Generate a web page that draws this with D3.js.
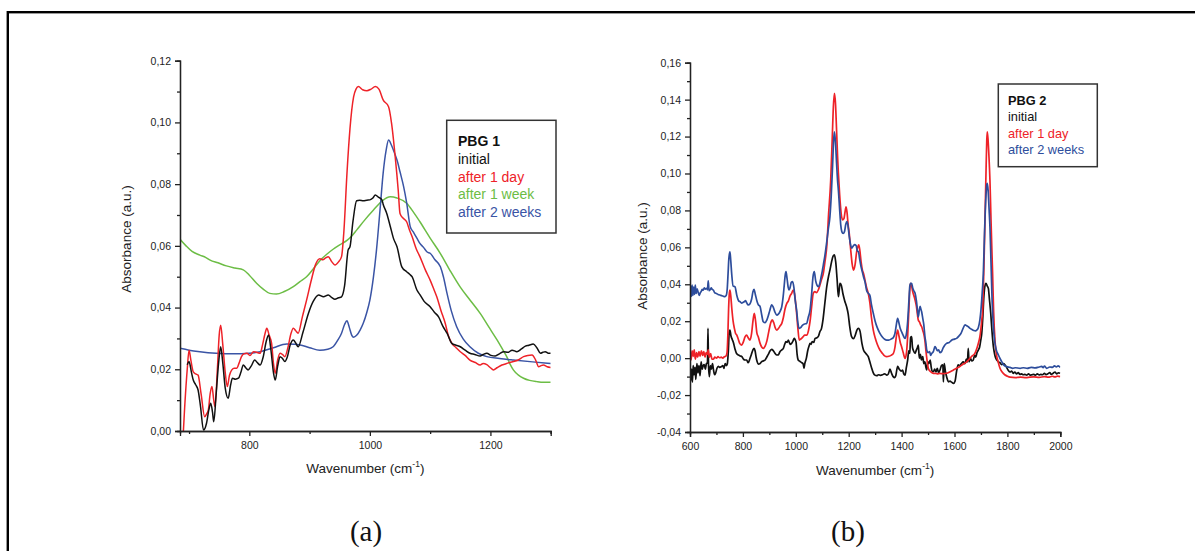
<!DOCTYPE html>
<html>
<head>
<meta charset="utf-8">
<script src="https://cdn.jsdelivr.net/npm/d3@7/dist/d3.min.js"></script>
<style>
  html, body { margin: 0; padding: 0; background: #fff; }
  svg { display: block; }
  .tick text { font-family: "Liberation Sans", Arial, sans-serif; font-size: 10.5px; fill: #222; }
  .axis path, .axis line { stroke: #222; stroke-width: 1.3; }
</style>
</head>
<body>
<svg id="fig" width="1195" height="551"></svg>
<script>
// ---------- Panel (a): PBG 1, [wavenumber cm-1, absorbance] ----------
const pbg1Initial = [[697,0.0215],[700,0.0225],[704,0.019],[707,0.0165],[711,0.015],[715,0.0133],[719,0.008],[724,0.0003],[729,0.0025],[733,0.007],[736,0.009],[739,0.006],[741,0.003],[745,0.012],[749,0.022],[752.5,0.0273],[756,0.022],[760,0.014],[765,0.0106],[769,0.015],[772,0.0171],[777,0.0168],[782,0.0171],[786,0.019],[790,0.0214],[794,0.0205],[798,0.0198],[803,0.021],[809,0.023],[813,0.0222],[818,0.0214],[823,0.024],[828,0.029],[832,0.0311],[836,0.026],[840,0.019],[843,0.0165],[847,0.021],[851,0.0241],[855,0.0235],[859,0.0225],[863,0.024],[868,0.028],[873,0.0295],[877,0.0285],[881,0.0273],[889,0.032],[898,0.0381],[906,0.042],[915,0.0441],[923,0.0435],[931,0.0441],[937,0.0432],[942,0.0427],[948,0.0432],[953,0.0435],[958,0.047],[964,0.0587],[967,0.0597],[972,0.068],[978,0.0746],[983,0.0748],[989,0.0746],[995,0.0748],[1000,0.0749],[1005,0.0755],[1009,0.0765],[1014,0.0758],[1020,0.0749],[1022,0.0735],[1028,0.0705],[1034,0.0662],[1039,0.0625],[1045,0.0597],[1053,0.0532],[1061,0.0516],[1066,0.0508],[1070,0.05],[1078,0.0457],[1083,0.0442],[1090,0.042],[1100,0.0403],[1107,0.0385],[1114,0.037],[1121,0.034],[1128,0.0317],[1136,0.0284],[1143,0.0278],[1150,0.0273],[1158,0.0262],[1166,0.0252],[1174,0.0248],[1183,0.0243],[1188,0.0248],[1194,0.0252],[1201,0.0245],[1208,0.0243],[1215,0.025],[1222,0.0257],[1229,0.0255],[1236,0.0262],[1244,0.0257],[1251,0.0265],[1258,0.0275],[1264,0.0278],[1271,0.0282],[1277,0.027],[1283,0.0252],[1287,0.0255],[1291,0.0257],[1296,0.0252],[1300,0.0252]];

const pbg1Day = [[686,-0.01],[690,-0.002],[693,0.0085],[697,0.02],[700,0.0262],[703,0.023],[707,0.0192],[711,0.0185],[715,0.0181],[720,0.012],[726,0.0046],[729,0.0055],[732,0.0068],[735,0.012],[738,0.0144],[741,0.01],[743,0.0079],[747,0.02],[750,0.031],[752.5,0.0343],[756,0.028],[760,0.019],[763.5,0.0144],[767,0.018],[771,0.0198],[775,0.0203],[779,0.0203],[783,0.022],[787,0.0241],[791,0.025],[796,0.0252],[801,0.0245],[807,0.0257],[812,0.0255],[818,0.0252],[822,0.028],[826,0.0315],[829,0.0333],[833,0.031],[837,0.0284],[840,0.022],[843,0.0187],[847,0.023],[851,0.0252],[855,0.0248],[859,0.0241],[864,0.027],[869,0.0315],[873,0.0333],[877,0.0325],[881,0.0317],[888,0.037],[895,0.0424],[903,0.049],[910,0.054],[917,0.0558],[922,0.0555],[926,0.056],[931,0.0565],[937,0.0548],[942,0.0538],[948,0.0548],[953,0.0565],[957,0.065],[962,0.0835],[967,0.098],[973,0.1083],[977,0.1108],[981,0.1116],[988,0.1106],[995,0.1103],[1002,0.1108],[1009,0.1116],[1015,0.1108],[1022,0.1073],[1031,0.1051],[1036,0.0997],[1042,0.0889],[1047,0.0781],[1050,0.0705],[1055,0.069],[1061,0.0678],[1066,0.065],[1070,0.063],[1077,0.059],[1083,0.0565],[1092,0.0522],[1100,0.0489],[1106,0.046],[1111,0.0435],[1118,0.039],[1125,0.0349],[1130,0.031],[1136,0.0284],[1143,0.027],[1150,0.0257],[1158,0.0245],[1166,0.023],[1175,0.0222],[1183,0.0214],[1188,0.0219],[1194,0.0215],[1200,0.0205],[1205,0.0198],[1211,0.0205],[1219,0.0214],[1226,0.0218],[1232,0.0222],[1238,0.0225],[1246,0.023],[1255,0.0241],[1262,0.0245],[1269,0.0246],[1275,0.023],[1280,0.0208],[1284,0.0212],[1288,0.0214],[1294,0.0208],[1300,0.0206]];

const pbg1Week = [[685,0.0621],[695,0.06],[705,0.0582],[718,0.057],[728,0.0562],[735,0.0554],[748,0.0545],[762,0.0535],[776,0.0528],[790,0.0522],[800,0.0505],[812,0.0479],[823,0.046],[834,0.0446],[845,0.0444],[858,0.0452],[873,0.0468],[884,0.0484],[895,0.05],[906,0.0525],[917,0.0552],[928,0.0572],[939,0.0589],[950,0.0603],[962,0.0618],[970,0.0632],[978,0.0651],[992,0.0685],[1006,0.0716],[1020,0.0745],[1034,0.0759],[1045,0.0755],[1061,0.0738],[1072,0.071],[1083,0.0678],[1100,0.0625],[1117,0.0575],[1133,0.052],[1150,0.0466],[1167,0.0422],[1183,0.0381],[1197,0.0338],[1211,0.0295],[1220,0.0265],[1227,0.0241],[1233,0.0215],[1238,0.0198],[1246,0.0182],[1255,0.0171],[1265,0.0164],[1277,0.016],[1288,0.0158],[1300,0.0158]];

const pbg1Weeks = [[685,0.0268],[700,0.0262],[718,0.0257],[745,0.0252],[773,0.025],[800,0.0252],[818,0.0257],[840,0.027],[862,0.0282],[875,0.0281],[884,0.0279],[900,0.027],[917,0.0262],[930,0.0265],[939,0.0273],[947,0.0295],[953,0.0317],[958,0.0345],[962,0.0357],[966,0.0335],[970,0.031],[973,0.0304],[978,0.031],[984,0.0328],[989,0.0349],[995,0.0385],[1000,0.0424],[1006,0.05],[1011,0.0587],[1017,0.072],[1022,0.0835],[1027,0.091],[1031,0.0943],[1036,0.0925],[1041,0.09],[1045,0.0878],[1050,0.084],[1056,0.0792],[1061,0.074],[1067,0.0662],[1072,0.0645],[1078,0.0625],[1083,0.0608],[1089,0.0595],[1095,0.058],[1100,0.0576],[1108,0.0555],[1117,0.0532],[1122,0.05],[1128,0.0446],[1135,0.039],[1144,0.0338],[1155,0.0298],[1166,0.0273],[1180,0.0252],[1194,0.0241],[1215,0.0235],[1238,0.023],[1270,0.0224],[1300,0.0219]];

// ---------- Panel (b): PBG 2 ----------
const pbg2Initial = [[600,-0.0074],[603,-0.012],[606,-0.006],[609,-0.013],[612,-0.004],[615,-0.009],[619,-0.005],[622,-0.0115],[626,-0.003],[630,-0.008],[634,-0.004],[638,-0.0095],[642,-0.002],[646,-0.006],[650,-0.004],[654,-0.0035],[658,-0.006],[662,-0.003],[666,-0.0025],[668,0.0162],[670,-0.004],[673,-0.01],[677,-0.004],[681,-0.006],[685,-0.003],[689,-0.0065],[693,-0.009],[697,-0.008],[702,-0.0055],[707,-0.0044],[712,-0.005],[718,-0.0047],[724,-0.004],[728,-0.0055],[733,-0.003],[738,-0.004],[741,-0.0032],[745,0.004],[748,0.0135],[751,0.0152],[755,0.012],[760,0.01],[764,0.0085],[770,0.005],[776,0.0025],[783,0.0017],[790,0.0012],[796,0.0008],[802,-0.0005],[808,-0.001],[814,-0.001],[820,-0.0025],[826,-0.0005],[832,0.002],[838,0.0045],[842,0.0053],[846,0.004],[850,0.0005],[854,-0.002],[858,-0.0032],[864,-0.003],[870,-0.002],[877,-0.0015],[884,-0.001],[890,0.0005],[896,0.002],[903,0.004],[909,0.0048],[915,0.004],[922,0.0025],[928,0.0017],[934,0.0018],[940,0.0035],[947,0.0045],[953,0.0053],[958,0.0075],[963,0.009],[967,0.0085],[972,0.0098],[978,0.0075],[984,0.008],[990,0.0095],[994,0.0107],[997,0.0102],[1001,0.0085],[1005,0.002],[1009,-0.001],[1013,-0.0015],[1018,-0.002],[1023,-0.0025],[1028,-0.0032],[1031,-0.0055],[1034,-0.003],[1040,0.0],[1045,0.004],[1050,0.0065],[1054,0.008],[1058,0.0075],[1062,0.009],[1068,0.0085],[1073,0.0107],[1080,0.011],[1086,0.012],[1091,0.0143],[1097,0.016],[1103,0.021],[1110,0.03],[1117,0.0387],[1124,0.0445],[1129,0.0477],[1135,0.052],[1141,0.0552],[1146,0.0559],[1151,0.052],[1156,0.043],[1161,0.0333],[1164,0.0365],[1167,0.0405],[1172,0.0395],[1178,0.035],[1185,0.031],[1192,0.0279],[1198,0.024],[1204,0.017],[1211,0.0116],[1218,0.0105],[1225,0.0125],[1231,0.0152],[1237,0.0161],[1243,0.0145],[1250,0.008],[1256,0.0044],[1262,0.003],[1268,0.002],[1274,0.0008],[1280,-0.002],[1287,-0.0055],[1293,-0.008],[1299,-0.0092],[1306,-0.0095],[1313,-0.009],[1320,-0.0093],[1328,-0.009],[1335,-0.0085],[1340,-0.0088],[1344,-0.0092],[1350,-0.0085],[1356,-0.006],[1362,-0.0082],[1368,-0.01],[1374,-0.0105],[1378,-0.0095],[1385,-0.0044],[1391,-0.006],[1398,-0.007],[1404,-0.0065],[1408,-0.0085],[1413,-0.0092],[1418,-0.005],[1423,-0.001],[1427,0.004],[1431,0.0025],[1434,0.0112],[1438,0.0116],[1441,0.006],[1445,0.004],[1451,0.0026],[1456,0.0045],[1460,0.0058],[1463,0.0071],[1467,0.0],[1471,0.002],[1475,-0.001],[1480,0.0008],[1484,-0.003],[1488,-0.002],[1492,-0.005],[1495,-0.0064],[1499,-0.002],[1503,-0.003],[1508,-0.001],[1512,-0.005],[1516,-0.0073],[1520,-0.0073],[1525,-0.006],[1530,-0.0075],[1535,-0.0055],[1540,-0.008],[1545,-0.0065],[1551,-0.004],[1556,-0.0037],[1558,-0.0128],[1561,-0.003],[1566,-0.0075],[1571,-0.0105],[1577,-0.0128],[1583,-0.0125],[1589,-0.013],[1596,-0.0137],[1602,-0.0125],[1608,-0.007],[1614,-0.0037],[1620,-0.004],[1626,-0.003],[1633,-0.002],[1639,-0.003],[1645,-0.0005],[1649,-0.002],[1652,0.0053],[1655,-0.002],[1660,0.0],[1665,-0.0015],[1671,-0.001],[1676,0.0015],[1680,0.0005],[1685,0.003],[1690,0.0044],[1695,0.006],[1699,0.0095],[1703,0.0134],[1707,0.022],[1711,0.0333],[1715,0.039],[1719,0.0405],[1724,0.039],[1728,0.0378],[1732,0.032],[1737,0.0243],[1742,0.014],[1747,0.0062],[1752,0.002],[1756,0.0],[1760,-0.001],[1766,-0.002],[1772,-0.0025],[1778,-0.0035],[1785,-0.003],[1791,-0.0037],[1797,-0.005],[1803,-0.0065],[1810,-0.0075],[1816,-0.007],[1822,-0.0082],[1828,-0.0075],[1835,-0.0085],[1841,-0.0078],[1847,-0.0088],[1854,-0.0085],[1860,-0.009],[1866,-0.0088],[1873,-0.0092],[1880,-0.0085],[1886,-0.0092],[1893,-0.009],[1900,-0.0088],[1906,-0.0092],[1913,-0.0085],[1920,-0.0091],[1926,-0.0088],[1933,-0.009],[1940,-0.0082],[1946,-0.0089],[1953,-0.0085],[1960,-0.0078],[1966,-0.0088],[1973,-0.0082],[1980,-0.0075],[1986,-0.0085],[1993,-0.0079],[2000,-0.0082]];

const pbg2Day = [[600,0.0035],[604,-0.001],[608,0.004],[612,0.001],[616,0.0045],[620,-0.0005],[625,0.003],[629,0.0005],[634,0.0035],[638,0.001],[643,0.004],[648,0.0015],[652,0.0035],[657,0.0005],[661,0.003],[665,0.002],[669,0.0045],[673,0.0005],[678,0.0025],[683,-0.0005],[688,-0.0006],[694,0.0005],[700,0.0],[706,0.0008],[712,0.0002],[718,0.0005],[724,0.0],[730,0.0008],[735,0.001],[740,0.003],[743,0.012],[746,0.027],[749,0.0355],[751,0.0369],[754,0.034],[758,0.027],[763,0.02],[768,0.016],[772,0.0135],[777,0.0125],[782,0.0105],[788,0.008],[795,0.0071],[801,0.0085],[808,0.0115],[814,0.0125],[820,0.011],[827,0.0098],[833,0.0135],[838,0.02],[843,0.0243],[848,0.02],[853,0.0135],[858,0.0116],[865,0.008],[871,0.006],[877,0.0053],[884,0.0065],[891,0.0095],[898,0.0145],[905,0.019],[911,0.0207],[917,0.019],[922,0.0165],[928,0.0152],[935,0.0162],[941,0.0175],[947,0.0188],[953,0.022],[959,0.0265],[966,0.0297],[972,0.031],[978,0.0336],[984,0.035],[990,0.0369],[995,0.035],[999,0.0305],[1003,0.0243],[1008,0.016],[1013,0.0098],[1020,0.0105],[1027,0.0115],[1034,0.0125],[1041,0.0125],[1048,0.015],[1054,0.02],[1060,0.028],[1066,0.0351],[1072,0.036],[1078,0.0355],[1085,0.0369],[1092,0.04],[1098,0.043],[1104,0.0459],[1110,0.052],[1117,0.0604],[1124,0.078],[1132,0.0965],[1138,0.12],[1142,0.136],[1146,0.1434],[1150,0.138],[1154,0.124],[1158,0.109],[1161,0.1001],[1166,0.088],[1171,0.079],[1177,0.0748],[1182,0.0755],[1186,0.079],[1190,0.082],[1194,0.0785],[1198,0.072],[1202,0.0676],[1208,0.058],[1213,0.051],[1218,0.0477],[1224,0.0505],[1230,0.0575],[1235,0.0605],[1238,0.0613],[1242,0.0585],[1247,0.052],[1252,0.0475],[1256,0.0459],[1262,0.042],[1268,0.038],[1274,0.0351],[1280,0.03],[1286,0.022],[1293,0.0152],[1300,0.011],[1308,0.0075],[1318,0.0044],[1328,0.0025],[1336,0.0012],[1344,0.0008],[1352,0.001],[1360,0.0015],[1369,0.0026],[1375,0.006],[1380,0.0115],[1385,0.0152],[1390,0.012],[1395,0.0085],[1400,0.0062],[1406,0.003],[1413,-0.0001],[1418,0.0025],[1423,0.012],[1428,0.028],[1431,0.037],[1434,0.0405],[1438,0.039],[1442,0.036],[1446,0.034],[1451,0.0315],[1456,0.028],[1460,0.0235],[1463,0.0207],[1468,0.0195],[1472,0.018],[1476,0.017],[1480,0.015],[1484,0.013],[1488,0.0098],[1492,0.004],[1496,-0.001],[1501,-0.0055],[1507,-0.007],[1514,-0.0078],[1520,-0.0082],[1526,-0.0082],[1535,-0.0085],[1545,-0.0083],[1557,-0.0084],[1570,-0.0082],[1582,-0.0075],[1595,-0.0065],[1608,-0.0055],[1620,-0.0045],[1633,-0.0032],[1646,-0.002],[1656,-0.0005],[1665,0.001],[1677,0.0026],[1685,0.0055],[1691,0.0085],[1696,0.0116],[1702,0.019],[1707,0.0279],[1711,0.048],[1715,0.073],[1719,0.1],[1722,0.118],[1724,0.1226],[1727,0.118],[1730,0.11],[1734,0.0965],[1738,0.075],[1741,0.06],[1744,0.0459],[1748,0.025],[1753,0.0098],[1758,0.0025],[1765,-0.002],[1772,-0.0055],[1780,-0.0075],[1790,-0.009],[1800,-0.0098],[1810,-0.0103],[1830,-0.0105],[1850,-0.0103],[1870,-0.0105],[1885,-0.0103],[1900,-0.0102],[1920,-0.0104],[1940,-0.01],[1955,-0.0103],[1970,-0.0098],[1980,-0.0102],[1990,-0.0097],[2000,-0.01]];

const pbg2Weeks = [[600,0.0333],[603,0.039],[606,0.0335],[608,0.0396],[611,0.034],[614,0.0385],[617,0.0345],[620,0.0395],[623,0.035],[627,0.0375],[631,0.0355],[635,0.034],[638,0.0351],[642,0.036],[646,0.0372],[650,0.0368],[654,0.038],[658,0.0374],[663,0.0378],[666,0.037],[669,0.0419],[672,0.0365],[676,0.037],[680,0.038],[684,0.0372],[688,0.0369],[693,0.0355],[700,0.035],[706,0.0345],[713,0.0342],[720,0.0338],[726,0.0335],[732,0.0333],[737,0.034],[741,0.038],[744,0.046],[747,0.054],[751,0.0576],[754,0.053],[758,0.045],[763,0.039],[770,0.0387],[777,0.034],[784,0.031],[789,0.0306],[795,0.0298],[800,0.0301],[805,0.0305],[810,0.0311],[815,0.0298],[820,0.0288],[827,0.0295],[833,0.032],[838,0.036],[842,0.0373],[847,0.0345],[853,0.031],[858,0.029],[865,0.0279],[871,0.0235],[877,0.0197],[884,0.0192],[890,0.0205],[896,0.023],[902,0.026],[909,0.0288],[915,0.0275],[921,0.025],[928,0.0233],[934,0.0238],[941,0.0255],[947,0.0279],[952,0.033],[956,0.039],[960,0.045],[963,0.0468],[967,0.043],[971,0.0385],[974,0.0369],[978,0.038],[983,0.041],[988,0.0414],[993,0.038],[998,0.031],[1003,0.0261],[1008,0.019],[1012,0.0161],[1018,0.0165],[1025,0.0178],[1033,0.0185],[1041,0.0188],[1047,0.022],[1054,0.0261],[1060,0.035],[1065,0.044],[1070,0.0468],[1075,0.042],[1080,0.0395],[1085,0.0387],[1090,0.04],[1095,0.0435],[1100,0.047],[1104,0.0504],[1110,0.0555],[1117,0.063],[1123,0.07],[1129,0.0766],[1134,0.088],[1139,0.104],[1143,0.118],[1146,0.1226],[1150,0.117],[1154,0.106],[1158,0.096],[1161,0.091],[1166,0.08],[1170,0.072],[1174,0.0685],[1179,0.0675],[1184,0.0685],[1189,0.0725],[1193,0.0739],[1197,0.072],[1202,0.066],[1207,0.0615],[1211,0.0595],[1216,0.0605],[1222,0.0615],[1228,0.061],[1233,0.058],[1237,0.0576],[1241,0.054],[1246,0.05],[1251,0.047],[1256,0.0441],[1262,0.041],[1268,0.0365],[1274,0.0351],[1280,0.034],[1286,0.029],[1293,0.0243],[1300,0.02],[1308,0.0165],[1318,0.0134],[1328,0.0113],[1336,0.0102],[1344,0.0098],[1352,0.0098],[1360,0.0103],[1369,0.0112],[1375,0.0135],[1380,0.018],[1385,0.0216],[1390,0.019],[1395,0.016],[1400,0.0143],[1406,0.0123],[1413,0.0107],[1418,0.013],[1423,0.02],[1428,0.032],[1431,0.039],[1434,0.0405],[1438,0.0405],[1442,0.038],[1446,0.0365],[1451,0.0351],[1456,0.031],[1460,0.026],[1463,0.0224],[1467,0.026],[1470,0.028],[1472,0.027],[1476,0.025],[1480,0.0215],[1484,0.018],[1488,0.012],[1492,0.008],[1495,0.0044],[1500,0.003],[1506,0.0035],[1510,0.0015],[1514,0.0026],[1520,0.0035],[1526,0.0062],[1530,0.0055],[1535,0.004],[1540,0.0045],[1545,0.003],[1551,0.0035],[1557,0.0055],[1563,0.007],[1570,0.008],[1580,0.0085],[1590,0.0098],[1600,0.0103],[1608,0.0107],[1617,0.012],[1625,0.0135],[1632,0.016],[1640,0.018],[1646,0.0175],[1652,0.017],[1659,0.0161],[1666,0.0155],[1673,0.015],[1680,0.0148],[1684,0.0152],[1690,0.0165],[1696,0.0207],[1700,0.026],[1705,0.036],[1709,0.0459],[1714,0.07],[1719,0.088],[1722,0.094],[1724,0.0947],[1727,0.091],[1731,0.08],[1734,0.0712],[1738,0.052],[1742,0.032],[1747,0.017],[1752,0.009],[1758,0.0045],[1766,0.0017],[1775,-0.001],[1785,-0.0035],[1797,-0.0046],[1810,-0.005],[1820,-0.0055],[1830,-0.0052],[1848,-0.0055],[1860,-0.0052],[1875,-0.0055],[1890,-0.005],[1905,-0.0053],[1920,-0.0048],[1930,-0.0045],[1935,-0.0052],[1940,-0.0043],[1949,-0.0055],[1960,-0.0048],[1970,-0.005],[1978,-0.0042],[1985,-0.0048],[1992,-0.0042],[2000,-0.005]];

// Axis ticks
const xTicksA = [800, 1000, 1200];
const xMinorA = [700, 900, 1100, 1300];
const yTicksA = [0, 0.02, 0.04, 0.06, 0.08, 0.10, 0.12];
const yMinorA = [0.01, 0.03, 0.05, 0.07, 0.09, 0.11];
const xTicksB = [600, 800, 1000, 1200, 1400, 1600, 1800, 2000];
const xMinorB = [700, 900, 1100, 1300, 1500, 1700, 1900];
const yTicksB = [-0.04, -0.02, 0, 0.02, 0.04, 0.06, 0.08, 0.10, 0.12, 0.14, 0.16];
const yMinorB = [-0.03, -0.01, 0.01, 0.03, 0.05, 0.07, 0.09, 0.11, 0.13, 0.15];

const legendA = ["initial", "after 1 day", "after 1 week", "after 2 weeks"];
const legendB = ["initial", "after 1 day", "after 2 weeks"];

// ---------- drawing ----------
const svg = d3.select("#fig");
const sans = '"Liberation Sans", Arial, Helvetica, sans-serif';
const locale = d3.formatLocale({decimal: ",", thousands: ".", grouping: [3], currency: ["", ""], minus: "-"});
const fmt2 = locale.format(".2f");

const RED = "#ee2228", GREEN = "#6cbd45", BLUE_A = "#3a54a5", BLUE_B = "#2d4d9c", BLACK = "#111";

// outer frame
svg.append("rect").attr("x", 7.8).attr("y", 12.2).attr("width", 1300).attr("height", 700)
  .attr("fill", "none").attr("stroke", "#000").attr("stroke-width", 2.4);

function panel(cfg) {
  const g = svg.append("g");
  const x = d3.scaleLinear().domain(cfg.xDomain).range(cfg.xRange);
  const y = d3.scaleLinear().domain(cfg.yDomain).range(cfg.yRange);

  const clipId = "clip-" + cfg.id;
  svg.append("clipPath").attr("id", clipId).append("rect")
    .attr("x", cfg.xRange[0]).attr("y", cfg.yRange[1] - 5)
    .attr("width", cfg.xRange[1] - cfg.xRange[0]).attr("height", cfg.yRange[0] - cfg.yRange[1] + 5);

  const line = d3.line().x(d => x(d[0])).y(d => y(d[1])).curve(d3.curveMonotoneX);
  const plot = g.append("g").attr("clip-path", `url(#${clipId})`);
  cfg.series.forEach(s => {
    plot.append("path").datum(s.data).attr("d", line)
      .attr("fill", "none").attr("stroke", s.color).attr("stroke-width", cfg.lw)
      .attr("stroke-linejoin", "round");
  });

  // axes: major ticks with labels, minor ticks without
  const xAxis = g.append("g").attr("class", "axis").attr("transform", `translate(0,${cfg.yRange[0]})`);
  xAxis.call(d3.axisBottom(x).tickValues(cfg.xMinor).tickSize(3).tickFormat(""));
  const xMaj = g.append("g").attr("class", "axis").attr("transform", `translate(0,${cfg.yRange[0]})`);
  xMaj.call(d3.axisBottom(x).tickValues(cfg.xTicks).tickSize(5).tickPadding(6).tickFormat(d3.format("d")));
  const yAxis = g.append("g").attr("class", "axis").attr("transform", `translate(${cfg.xRange[0]},0)`);
  yAxis.call(d3.axisLeft(y).tickValues(cfg.yMinor).tickSize(3).tickFormat(""));
  const yMaj = g.append("g").attr("class", "axis").attr("transform", `translate(${cfg.xRange[0]},0)`);
  yMaj.call(d3.axisLeft(y).tickValues(cfg.yTicks).tickSize(5).tickPadding(4).tickFormat(fmt2));
  g.selectAll(".axis .domain").attr("stroke-width", 1.3);

  // axis titles
  const xt = g.append("text")
    .attr("x", (cfg.xRange[0] + cfg.xRange[1]) / 2).attr("y", cfg.xTitleY)
    .attr("text-anchor", "middle").attr("font-family", sans).attr("font-size", 13.5).attr("fill", "#222");
  xt.append("tspan").text("Wavenumber (cm");
  xt.append("tspan").attr("font-size", 8.5).attr("dy", -6).text("-1");
  xt.append("tspan").attr("dy", 6).text(")");

  g.append("text")
    .attr("transform", `translate(${cfg.yTitleX},${cfg.yTitleY}) rotate(-90)`)
    .attr("text-anchor", "middle").attr("font-family", sans).attr("font-size", 13.5).attr("fill", "#222")
    .text("Absorbance (a.u.)");

  // legend
  const L = cfg.legend;
  g.append("rect").attr("x", L.x).attr("y", L.y).attr("width", L.w).attr("height", L.h)
    .attr("fill", "#fff").attr("stroke", "#333").attr("stroke-width", 1.5);
  g.append("text").attr("x", L.tx).attr("y", L.ty).attr("font-family", sans)
    .attr("font-size", L.fs).attr("font-weight", "bold").attr("fill", "#111").text(L.title);
  L.labels.forEach((lab, i) => {
    g.append("text").attr("x", L.tx).attr("y", L.ty + (i + 1) * L.dy)
      .attr("font-family", sans).attr("font-size", L.fs).attr("fill", L.colors[i]).text(lab);
  });

  // panel caption
  g.append("text").attr("x", cfg.capX).attr("y", 541).attr("text-anchor", "middle")
    .attr("font-family", '"Liberation Serif", "Times New Roman", serif').attr("font-size", 29)
    .attr("fill", "#111").text(cfg.caption);
}

panel({
  id: "a",
  xDomain: [685, 1300], xRange: [180, 550.7],
  yDomain: [0, 0.12], yRange: [431, 60.7],
  xTicks: xTicksA, xMinor: xMinorA, yTicks: yTicksA, yMinor: yMinorA,
  lw: 1.5,
  series: [
    {data: pbg1Week, color: GREEN},
    {data: pbg1Weeks, color: BLUE_A},
    {data: pbg1Day, color: RED},
    {data: pbg1Initial, color: BLACK}
  ],
  xTitleY: 473, yTitleX: 131, yTitleY: 239,
  legend: {x: 446.7, y: 120.3, w: 109.3, h: 112.7, tx: 458, ty: 146, dy: 17.8, fs: 14,
           title: "PBG 1", labels: legendA, colors: [BLACK, RED, GREEN, BLUE_A]},
  capX: 366, caption: "(a)"
});

panel({
  id: "b",
  xDomain: [600, 2000], xRange: [690, 1060.3],
  yDomain: [-0.04, 0.16], yRange: [432, 62.7],
  xTicks: xTicksB, xMinor: xMinorB, yTicks: yTicksB, yMinor: yMinorB,
  lw: 1.7,
  series: [
    {data: pbg2Initial, color: BLACK},
    {data: pbg2Day, color: RED},
    {data: pbg2Weeks, color: BLUE_B}
  ],
  xTitleY: 475, yTitleX: 647, yTitleY: 256,
  legend: {x: 998.3, y: 84, w: 99, h: 82.7, tx: 1008, ty: 105, dy: 16.3, fs: 12.8,
           title: "PBG 2", labels: legendB, colors: [BLACK, RED, BLUE_B]},
  capX: 848, caption: "(b)"
});
</script>
</body>
</html>
